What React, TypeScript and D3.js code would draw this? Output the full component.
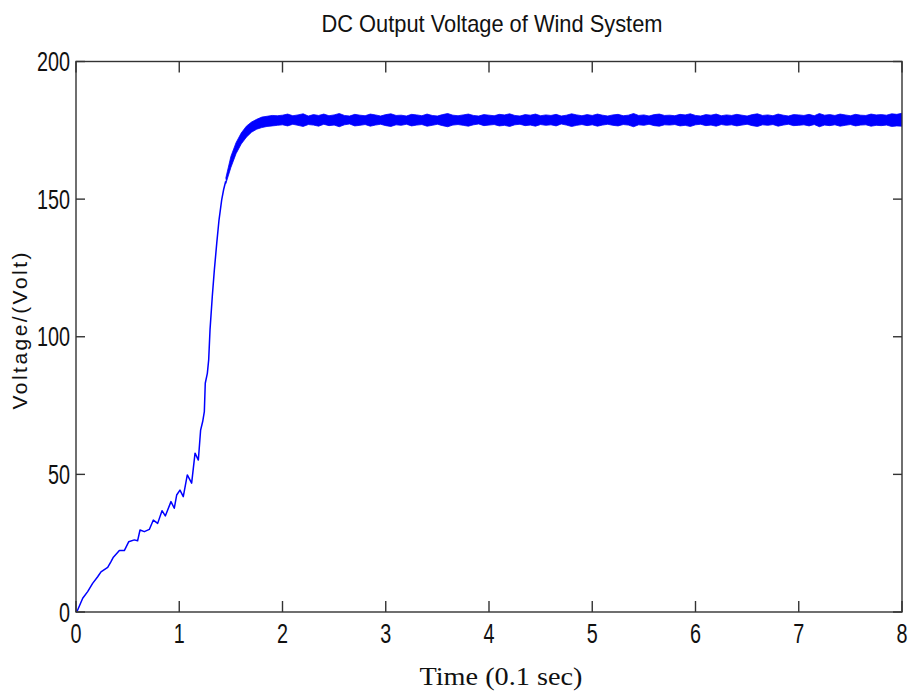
import React from "react";
import * as d3 from "d3";

// Early (pre-noise) part of the signal: time (0.1 s) and voltage
const riseT = [0, 0.016, 0.065, 0.113, 0.161, 0.21, 0.242, 0.307, 0.339, 0.362, 0.42, 0.468, 0.51, 0.565, 0.597, 0.62, 0.662, 0.71, 0.749, 0.791, 0.833, 0.865, 0.92, 0.952, 0.975, 1.007, 1.039, 1.078, 1.12, 1.153, 1.185, 1.207, 1.227, 1.243, 1.252, 1.272, 1.285, 1.298, 1.32, 1.34, 1.363, 1.385, 1.411, 1.43, 1.45];
const riseV = [0, 0.7, 5.0, 7.4, 10.4, 12.8, 14.6, 16.2, 18.3, 19.9, 22.3, 22.3, 25.5, 26.2, 25.9, 29.8, 29.2, 30.0, 33.4, 32.2, 36.8, 34.9, 40.1, 37.7, 42.5, 44.3, 41.9, 49.8, 46.8, 57.7, 55.2, 66.1, 69.2, 72.8, 83.1, 86.7, 91.6, 102.5, 114.6, 124.3, 133.9, 142.4, 149.7, 153.5, 156.5];

// Noisy band during the knee of the rise
const kneeT = [1.45, 1.5, 1.55, 1.6, 1.65, 1.7, 1.75, 1.8, 1.85, 1.9, 1.95];
const kneeUpper = [157.5, 165.5, 170.5, 174.0, 176.5, 178.0, 179.0, 179.8, 180.1, 180.4, 180.3];
const kneeLower = [155.5, 161.5, 166.5, 170.0, 172.5, 174.3, 175.4, 176.0, 176.4, 176.6, 176.8];

// Steady-state ripple envelope, sampled every 0.05 from 2.0 to 8.0
const steadyStart = 2.0;
const steadyStep = 0.05;
const steadyUpper = [
  180.5, 180.9, 180.3, 180.6, 181.0, 180.2, 180.7, 180.4, 180.9, 180.3,
  180.6, 181.1, 180.4, 180.2, 180.8, 180.5, 180.3, 180.9, 180.6, 180.2,
  180.7, 181.0, 180.4, 180.5, 180.2, 180.8, 180.6, 180.3, 180.9, 180.4,
  180.2, 180.7, 181.1, 180.5, 180.3, 180.6, 180.9, 180.4, 180.2, 180.7,
  180.5, 180.3, 180.8, 180.6, 181.0, 180.4, 180.2, 180.7, 180.5, 180.9,
  180.3, 180.6, 180.4, 180.8, 180.2, 180.5, 181.0, 180.6, 180.3, 180.7,
  180.4, 180.9, 180.5, 180.2, 180.6, 180.8, 180.3, 180.5, 181.1, 180.4,
  180.6, 180.2, 180.7, 180.9, 180.4, 180.5, 180.3, 180.8, 180.6, 181.0,
  180.4, 180.2, 180.7, 180.5, 180.9, 180.3, 180.6, 180.4, 180.8, 180.5,
  180.2, 180.7, 181.0, 180.4, 180.6, 180.3, 180.9, 180.5, 180.2, 180.7,
  180.6, 180.4, 180.8, 180.3, 181.1, 180.5, 180.7, 180.4, 180.9, 180.6,
  180.3, 180.8, 180.5, 180.4, 180.9, 180.6, 180.7, 180.5, 181.0, 180.8,
  181.2,
];
const steadyLower = [
  177.0, 176.6, 177.2, 176.8, 176.4, 177.1, 176.9, 176.5, 177.2, 176.7,
  176.9, 176.3, 177.0, 177.3, 176.6, 176.8, 177.1, 176.5, 176.9, 177.2,
  176.7, 176.4, 177.0, 176.8, 177.2, 176.6, 176.9, 177.1, 176.5, 176.8,
  177.2, 176.7, 176.3, 176.9, 177.1, 176.8, 176.5, 177.0, 177.3, 176.7,
  176.9, 177.1, 176.6, 176.8, 176.4, 177.0, 177.2, 176.7, 176.9, 176.5,
  177.1, 176.8, 177.0, 176.6, 177.3, 176.9, 176.4, 176.8, 177.1, 176.7,
  177.0, 176.5, 176.9, 177.2, 176.8, 176.6, 177.1, 176.9, 176.3, 177.0,
  176.8, 177.2, 176.7, 176.5, 177.0, 176.9, 177.1, 176.6, 176.8, 176.4,
  177.0, 177.2, 176.7, 176.9, 176.5, 177.1, 176.8, 177.0, 176.6, 176.9,
  177.2, 176.7, 176.4, 177.0, 176.8, 177.1, 176.5, 176.9, 177.2, 176.7,
  176.8, 177.0, 176.6, 177.1, 176.3, 176.9, 176.7, 177.0, 176.5, 176.8,
  177.1, 176.6, 176.9, 177.0, 176.5, 176.8, 176.7, 176.9, 176.4, 176.6,
  176.5,
];

const xTicks = [0, 1, 2, 3, 4, 5, 6, 7, 8];
const yTicks = [0, 50, 100, 150, 200];

const title = "DC Output Voltage of Wind System";
const xLabel = "Time (0.1 sec)";
const yLabel = "Voltage/(Volt)";

export default function App() {
  const W = 915, H = 696;
  const x = d3.scaleLinear().domain([0, 8]).range([76, 902]);
  const y = d3.scaleLinear().domain([0, 200]).range([612, 61.5]);

  const risePts: [number, number][] = riseT.map((t, i) => [t, riseV[i]]);
  const line = d3.line<[number, number]>().x(d => x(d[0])).y(d => y(d[1]));

  type B = { t: number; lo: number; hi: number };
  const band: B[] = [];
  kneeT.forEach((t, i) => band.push({ t, lo: kneeLower[i], hi: kneeUpper[i] }));
  steadyUpper.forEach((hi, i) =>
    band.push({ t: +(steadyStart + i * steadyStep).toFixed(3), lo: steadyLower[i], hi })
  );
  const area = d3.area<B>().x(d => x(d.t)).y0(d => y(d.lo)).y1(d => y(d.hi));
  const bandEdge = d3.line<B>().x(d => x(d.t)).y(d => y(d.hi));
  const bandEdgeLo = d3.line<B>().x(d => x(d.t)).y(d => y(d.lo));

  const blue = "#0000ff";
  const axisColor = "#333";
  const x0 = x(0), x1 = x(8), y0 = y(0), y1 = y(200);

  return (
    <svg width={W} height={H} style={{ position: "absolute", left: 0, top: 0, display: "block", background: "#fff" }}>
      <rect x={0} y={0} width={W} height={H} fill="#fff" />
      <text x={492} y={32} textAnchor="middle" fontFamily="Liberation Sans, Arial, sans-serif" fontSize={24}
        textLength={341} lengthAdjust="spacingAndGlyphs" fill="#111">{title}</text>

      {/* data */}
      <path d={line(risePts) || ""} fill="none" stroke={blue} strokeWidth={1.5} strokeLinejoin="round" />
      <path d={area(band) || ""} fill={blue} stroke="none" />
      <path d={bandEdge(band) || ""} fill="none" stroke={blue} strokeWidth={0.8} />
      <path d={bandEdgeLo(band) || ""} fill="none" stroke={blue} strokeWidth={0.8} />

      {/* box */}
      <rect x={x0} y={y1} width={x1 - x0} height={y0 - y1} fill="none" stroke={axisColor} strokeWidth={1.4} />
      {xTicks.map(t => (
        <g key={"xt" + t}>
          <line x1={x(t)} x2={x(t)} y1={y0} y2={y0 - 11} stroke={axisColor} strokeWidth={1.4} />
          <line x1={x(t)} x2={x(t)} y1={y1} y2={y1 + 11} stroke={axisColor} strokeWidth={1.4} />
          <text x={x(t)} y={643} textAnchor="middle" fontFamily="Liberation Sans, Arial, sans-serif" fontSize={28}
            textLength={11} lengthAdjust="spacingAndGlyphs" fill="#111">{String(t)}</text>
        </g>
      ))}
      {yTicks.map(v => (
        <g key={"yt" + v}>
          <line x1={x0} x2={x0 + 9} y1={y(v)} y2={y(v)} stroke={axisColor} strokeWidth={1.4} />
          <line x1={x1} x2={x1 - 9} y1={y(v)} y2={y(v)} stroke={axisColor} strokeWidth={1.4} />
          <text x={70} y={y(v) + 9.5} textAnchor="end" fontFamily="Liberation Sans, Arial, sans-serif" fontSize={28}
            textLength={11 * String(v).length} lengthAdjust="spacingAndGlyphs" fill="#111">{String(v)}</text>
        </g>
      ))}

      <text x={501} y={685} textAnchor="middle" fontFamily="Liberation Serif, Times New Roman, serif" fontSize={26}
        textLength={163} lengthAdjust="spacingAndGlyphs" fill="#111">{xLabel}</text>
      <text transform="translate(27,331) rotate(-90)" textAnchor="middle" fontFamily="Liberation Sans, Arial, sans-serif"
        fontSize={21} textLength={157} lengthAdjust="spacing" fill="#111">{yLabel}</text>
    </svg>
  );
}
